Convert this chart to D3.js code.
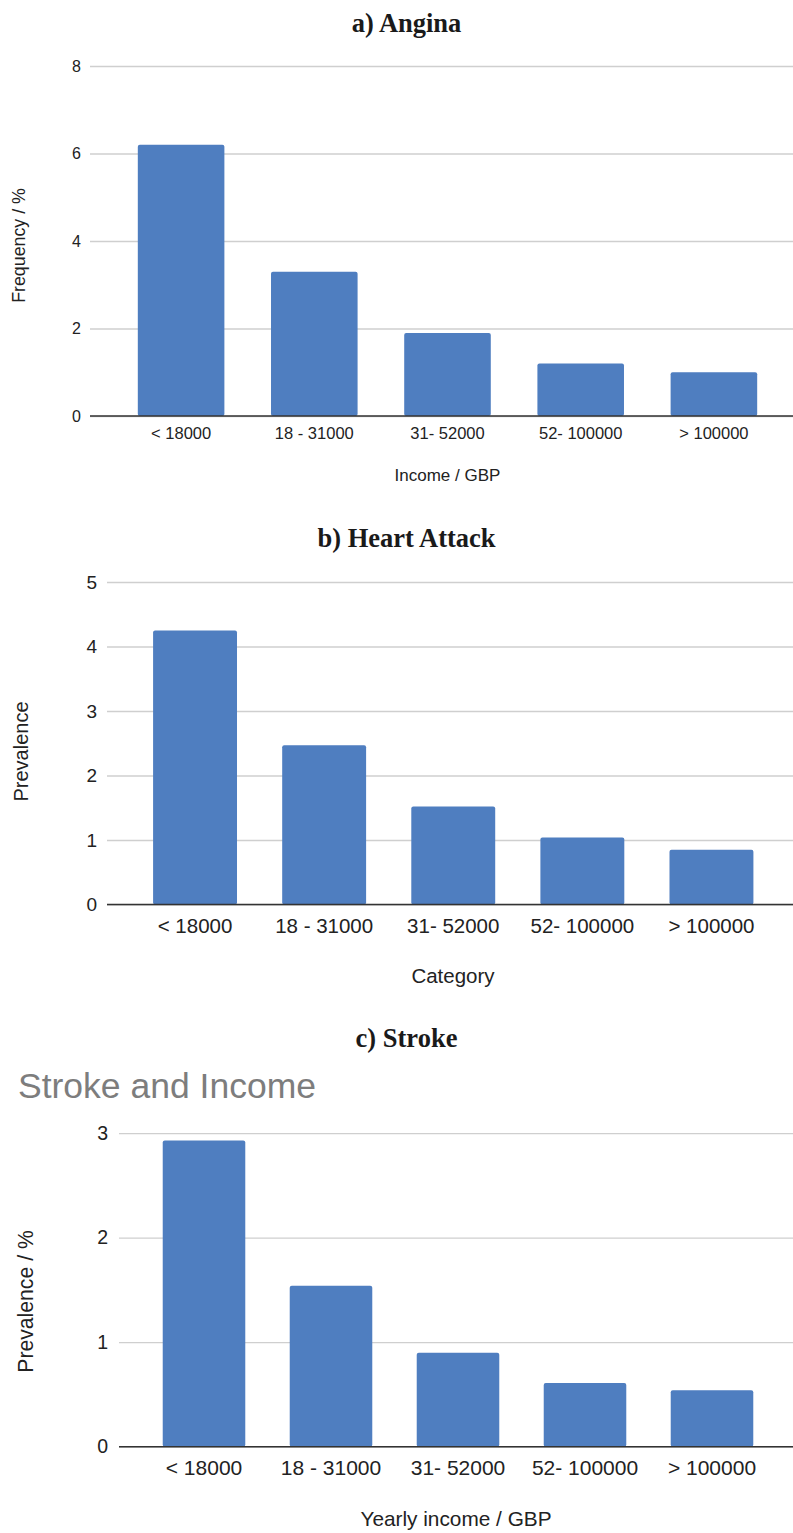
<!DOCTYPE html>
<html>
<head>
<meta charset="utf-8">
<script src="https://cdn.jsdelivr.net/npm/d3@7"></script>
<style>
  html, body { margin: 0; padding: 0; background: #ffffff; }
  svg { display: block; }
</style>
</head>
<body>
<script>
// ---------- DATA ----------
const categories = ["< 18000", "18 - 31000", "31- 52000", "52- 100000", "> 100000"];
const anginaValues = [6.2, 3.3, 1.9, 1.2, 1.0];
const heartAttackValues = [4.25, 2.47, 1.52, 1.04, 0.85];
const strokeValues = [2.93, 1.54, 0.90, 0.61, 0.54];
const anginaTicks = [0, 2, 4, 6, 8];
const heartAttackTicks = [0, 1, 2, 3, 4, 5];
const strokeTicks = [0, 1, 2, 3];
const panelTitles = ["a) Angina", "b) Heart Attack", "c) Stroke"];
const yTitles = ["Frequency / %", "Prevalence", "Prevalence / %"];
const xTitles = ["Income / GBP", "Category", "Yearly income / GBP"];
const chartTitleC = "Stroke and Income";

// ---------- LAYOUT ----------
const W = 793, H = 1533;
const BAR = "#4f7ec0";
const SANS = "'Liberation Sans', Arial, sans-serif";
const SERIF = "'Liberation Serif', 'Times New Roman', serif";

const svg = d3.select("body").append("svg")
  .attr("width", W).attr("height", H)
  .attr("viewBox", `0 0 ${W} ${H}`);

const panels = [
  { values: anginaValues, ticks: anginaTicks, title: panelTitles[0], yTitle: yTitles[0], xTitle: xTitles[0],
    titleY: 32, left: 90, right: 793, top: 66, bottom: 416, band: [114.5, 780.5],
    fsY: 16, fsX: 16.5, fsT: 17, tickPadY: 9, tickPadX: 11,
    yTitleX: 25, yTitleCY: 245.5, yTitleFs: 17.8, xTitleY: 481, xTitleCX: 447.5 },
  { values: heartAttackValues, ticks: heartAttackTicks, title: panelTitles[1], yTitle: yTitles[1], xTitle: xTitles[1],
    titleY: 547, left: 107, right: 793, top: 582, bottom: 904.5, band: [130.5, 776],
    fsY: 19, fsX: 20.5, fsT: 20.5, tickPadY: 10, tickPadX: 13.5,
    yTitleX: 28, yTitleCY: 751.5, yTitleFs: 20, xTitleY: 983, xTitleCX: 453 },
  { values: strokeValues, ticks: strokeTicks, title: panelTitles[2], yTitle: yTitles[2], xTitle: xTitles[2],
    titleY: 1047, left: 119, right: 793, top: 1133.2, bottom: 1446.7, band: [140.5, 775.5],
    fsY: 19.5, fsX: 21, fsT: 20.8, tickPadY: 11, tickPadX: 13.3,
    yTitleX: 33, yTitleCY: 1301.5, yTitleFs: 21.2, xTitleY: 1526, xTitleCX: 456,
    chartTitle: chartTitleC }
];

panels.forEach(p => {
  const g = svg.append("g");

  // panel caption
  g.append("text")
    .attr("x", 406.5).attr("y", p.titleY)
    .attr("text-anchor", "middle")
    .attr("font-family", SERIF).attr("font-weight", "bold")
    .attr("font-size", 26.5).attr("fill", "#1a1a1a")
    .text(p.title);

  if (p.chartTitle) {
    g.append("text")
      .attr("x", 18).attr("y", 1097.5)
      .attr("font-family", SANS).attr("font-size", 35.5)
      .attr("fill", "#7d7d7d")
      .text(p.chartTitle);
  }

  const x = d3.scaleBand().domain(categories).range(p.band)
    .paddingInner(0.35).paddingOuter(0.175);
  const maxTick = p.ticks[p.ticks.length - 1];
  const y = d3.scaleLinear().domain([0, maxTick]).range([p.bottom, p.top]);

  // gridlines via axis
  const grid = g.append("g")
    .attr("transform", `translate(${p.left},0)`)
    .call(d3.axisLeft(y).tickValues(p.ticks).tickSize(-(p.right - p.left)).tickFormat(""));
  grid.select(".domain").remove();
  grid.selectAll("line").attr("stroke", "#cfcfcf").attr("stroke-width", 1.3);

  // y axis labels
  const ya = g.append("g")
    .attr("transform", `translate(${p.left},0)`)
    .call(d3.axisLeft(y).tickValues(p.ticks).tickSize(0).tickPadding(p.tickPadY).tickFormat(d3.format("d")));
  ya.select(".domain").remove();
  ya.selectAll("text").attr("font-family", SANS).attr("font-size", p.fsY).attr("fill", "#222");

  // bars
  g.selectAll("rect.bar").data(p.values).enter().append("rect")
    .attr("class", "bar")
    .attr("x", (d, i) => x(categories[i]))
    .attr("width", x.bandwidth())
    .attr("y", d => y(d))
    .attr("height", d => y(0) - y(d))
    .attr("rx", 2).attr("ry", 2)
    .attr("fill", BAR);

  // x axis
  const xa = g.append("g")
    .attr("transform", `translate(0,${p.bottom})`)
    .call(d3.axisBottom(x).tickSize(0).tickPadding(p.tickPadX));
  xa.select(".domain").remove();
  xa.selectAll("text").attr("font-family", SANS).attr("font-size", p.fsX).attr("fill", "#222");

  g.append("line")
    .attr("x1", p.left).attr("x2", p.right)
    .attr("y1", y(0)).attr("y2", y(0))
    .attr("stroke", "#333").attr("stroke-width", 1.6);

  // axis titles
  g.append("text")
    .attr("transform", `translate(${p.yTitleX},${p.yTitleCY}) rotate(-90)`)
    .attr("text-anchor", "middle")
    .attr("font-family", SANS).attr("font-size", p.yTitleFs).attr("fill", "#222")
    .text(p.yTitle);

  g.append("text")
    .attr("x", p.xTitleCX).attr("y", p.xTitleY)
    .attr("text-anchor", "middle")
    .attr("font-family", SANS).attr("font-size", p.fsT).attr("fill", "#222")
    .text(p.xTitle);
});
</script>
</body>
</html>
